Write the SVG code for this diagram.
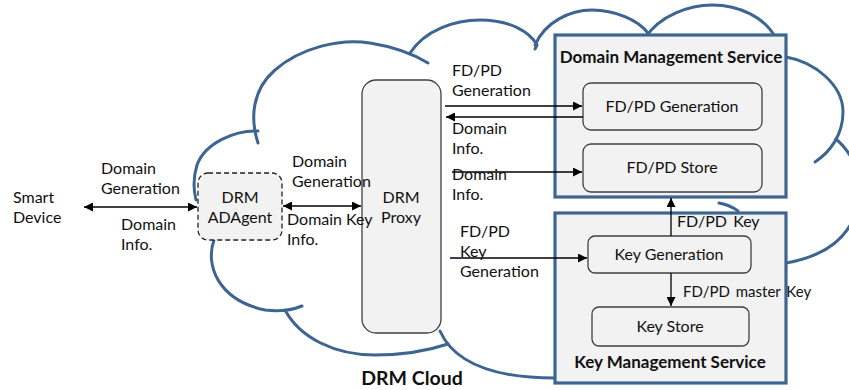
<svg xmlns="http://www.w3.org/2000/svg" width="849" height="390" viewBox="0 0 849 390">
  <defs>
    <marker id="arrow" viewBox="0 0 10 10" refX="10" refY="5" markerWidth="9" markerHeight="9" markerUnits="userSpaceOnUse" orient="auto-start-reverse">
      <path d="M0,0 L10,5 L0,10 z" fill="#000"/>
    </marker>
    <style>
      .cloud { fill: none; stroke: #3d6592; stroke-width: 3; stroke-linecap: round; }
      .svc { fill: #f2f2f2; stroke: #3d6592; stroke-width: 3.2; }
      .inner { fill: #f2f2f2; stroke: #404040; stroke-width: 1.3; }
      .agent { fill: #f2f2f2; stroke: #222; stroke-width: 1.3; stroke-dasharray: 5 3; }
      .t { font-family: Lato, "Open Sans", "Liberation Sans", sans-serif; font-size: 16px; fill: #111; }
      .c { text-anchor: middle; }
      .b { font-weight: bold; font-size: 17px; }
      .conn line { stroke: #000; stroke-width: 1.3; }
    </style>
  </defs>
  <rect width="849" height="390" fill="#fff"/>

  <!-- cloud outline -->
  <g id="cloud">
    <path class="cloud" d="M258,143 C250,118 252,90 275,70 C300,48 340,38 370,43 C395,47 415,55 428,63"/>
    <path class="cloud" d="M410,53 C425,30 455,20 480,20 C510,20 530,32 537,45 L535,49"/>
    <path class="cloud" d="M535,45 C545,22 570,10 592,10 C615,10 638,20 648,33"/>
    <path class="cloud" d="M645,38 C660,15 690,5 712,5 C740,5 765,18 775,37"/>
    <path class="cloud" d="M786,57 C815,62 843,85 843,112 C843,135 830,152 815,162"/>
    <path class="cloud" d="M836,139 C858,158 868,190 852,222 C840,245 815,258 786,263"/>
    <path class="cloud" d="M719,203 Q730,205 738,211"/>
    <path class="cloud" d="M258,131 C235,130 205,143 197,165 C193,178 193,188 196,200"/>
    <path class="cloud" d="M214,240 C205,265 218,300 265,310 C280,312 292,310 302,306"/>
    <path class="cloud" d="M285,310 C300,338 335,355 375,355 C405,355 430,350 448,344"/>
    <path class="cloud" d="M440,331 C452,358 485,378 555,378"/>
  </g>

  <text class="t b c" x="412" y="385" style="font-size:19.5px">DRM Cloud</text>

  <!-- nodes -->
  <g id="smart-device">
    <text class="t"><tspan x="13" y="203">Smart</tspan><tspan x="13" y="223">Device</tspan></text>
  </g>

  <g id="drm-adagent">
    <rect class="agent" x="198" y="173" width="84" height="67" rx="10"/>
    <text class="t c"><tspan x="240" y="203">DRM</tspan><tspan x="240" y="223">ADAgent</tspan></text>
  </g>

  <g id="drm-proxy">
    <rect class="inner" x="362" y="80" width="79" height="253" rx="14"/>
    <text class="t c"><tspan x="401" y="203">DRM</tspan><tspan x="401" y="223">Proxy</tspan></text>
  </g>

  <g id="domain-management-service">
    <rect class="svc" x="555" y="35" width="231" height="162"/>
    <text class="t b c" x="671" y="63">Domain Management Service</text>
  </g>

  <g id="fdpd-generation">
    <rect class="inner" x="583" y="83" width="179" height="47" rx="8"/>
    <text class="t c" x="672" y="112">FD/PD Generation</text>
  </g>

  <g id="fdpd-store">
    <rect class="inner" x="583" y="144" width="179" height="48" rx="8"/>
    <text class="t c" x="672" y="173">FD/PD Store</text>
  </g>

  <g id="key-management-service">
    <rect class="svc" x="555" y="213" width="231" height="170"/>
    <text class="t b c" x="670" y="368">Key Management Service</text>
  </g>

  <g id="key-generation">
    <rect class="inner" x="588" y="236" width="163" height="37" rx="7"/>
    <text class="t c" x="669" y="260">Key Generation</text>
  </g>

  <g id="key-store">
    <rect class="inner" x="592" y="307" width="157" height="39" rx="7"/>
    <text class="t c" x="670" y="332">Key Store</text>
  </g>

  <!-- connectors -->
  <g id="connectors" class="conn">
    <line x1="84" y1="207" x2="197" y2="207" marker-start="url(#arrow)" marker-end="url(#arrow)"/>
    <line x1="283" y1="206" x2="361" y2="206" marker-start="url(#arrow)" marker-end="url(#arrow)"/>
    <line x1="445" y1="106" x2="582" y2="106" marker-end="url(#arrow)"/>
    <line x1="583" y1="117" x2="446" y2="117" marker-end="url(#arrow)"/>
    <line x1="452" y1="172" x2="582" y2="172" marker-end="url(#arrow)"/>
    <line x1="450" y1="258" x2="587" y2="258" marker-end="url(#arrow)"/>
    <line x1="671" y1="236" x2="671" y2="198" marker-end="url(#arrow)"/>
    <line x1="671" y1="273" x2="671" y2="306" marker-end="url(#arrow)"/>
  </g>

  <!-- connector labels -->
  <g id="labels">
    <text class="t"><tspan x="101" y="174">Domain</tspan><tspan x="101" y="194">Generation</tspan></text>
    <text class="t"><tspan x="121" y="230">Domain</tspan><tspan x="121" y="250">Info.</tspan></text>
    <text class="t"><tspan x="292" y="167">Domain</tspan><tspan x="292" y="187">Generation</tspan></text>
    <text class="t"><tspan x="287" y="225">Domain Key</tspan><tspan x="287" y="245">Info.</tspan></text>
    <text class="t"><tspan x="452" y="76">FD/PD</tspan><tspan x="452" y="96">Generation</tspan></text>
    <text class="t"><tspan x="452" y="134">Domain</tspan><tspan x="452" y="154">Info.</tspan></text>
    <text class="t"><tspan x="452" y="180">Domain</tspan><tspan x="452" y="200">Info.</tspan></text>
    <text class="t"><tspan x="460" y="237">FD/PD</tspan><tspan x="460" y="257">Key</tspan><tspan x="460" y="277">Generation</tspan></text>
    <text class="t" x="677" y="227" style="word-spacing:2px">FD/PD Key</text>
    <text class="t" x="683" y="297" style="font-size:15px;word-spacing:2px">FD/PD master Key</text>
  </g>
</svg>
